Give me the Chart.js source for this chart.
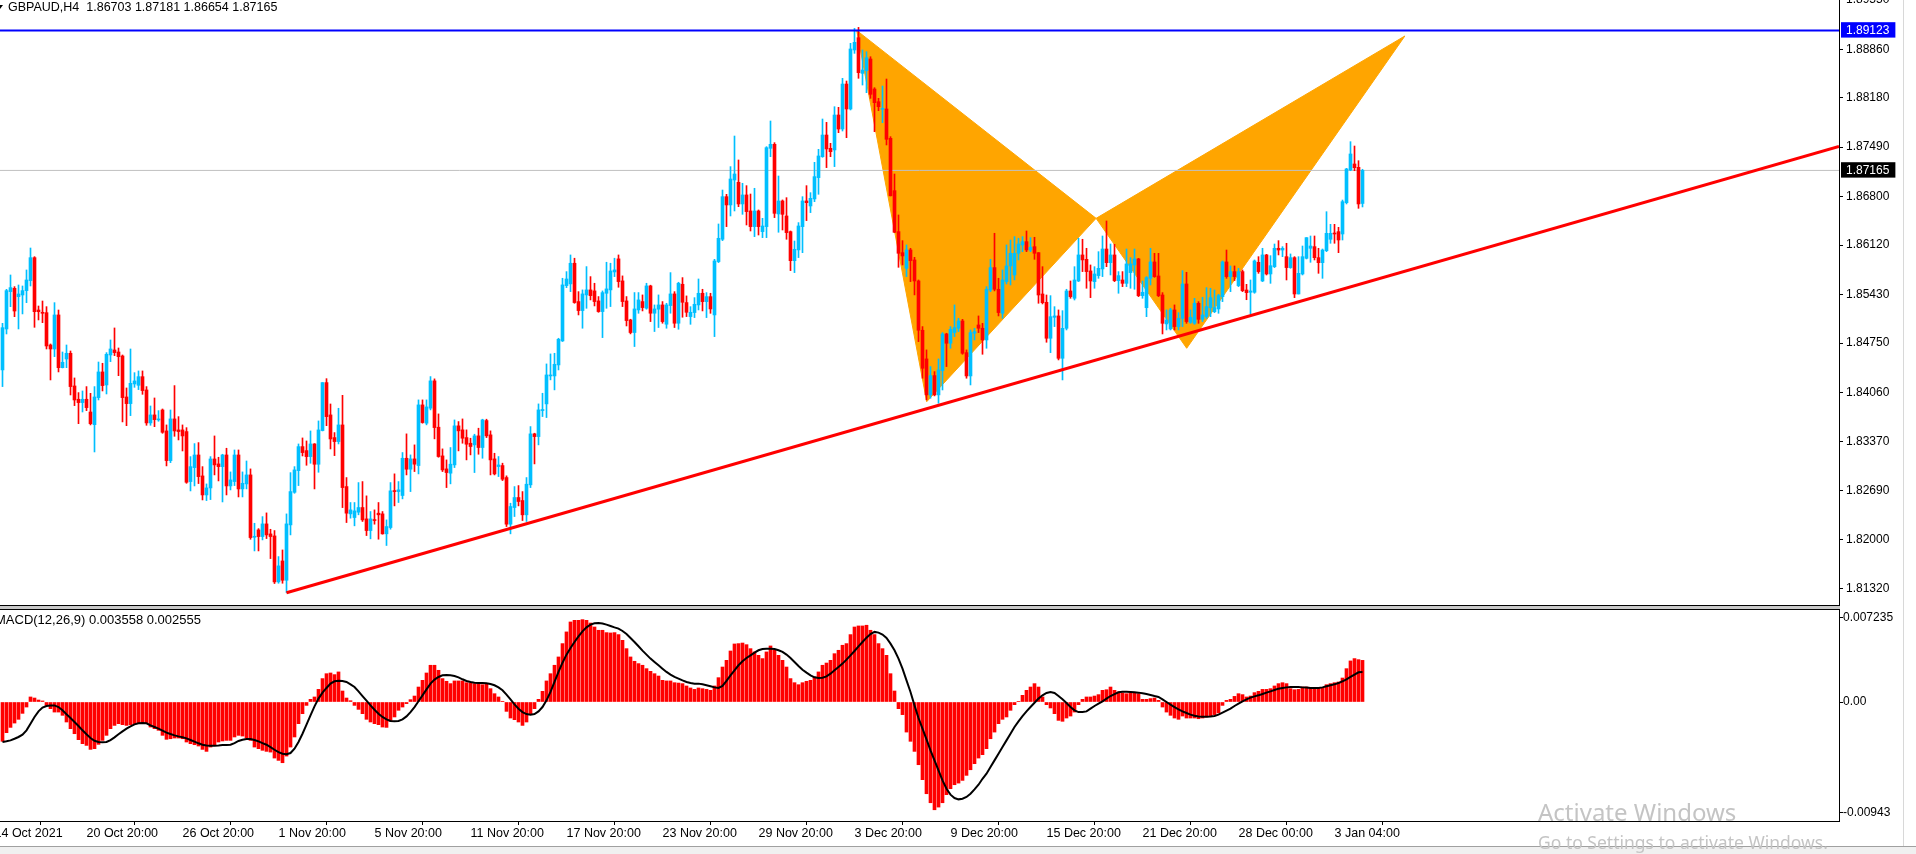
<!DOCTYPE html>
<html>
<head>
<meta charset="utf-8">
<script src="https://cdn.jsdelivr.net/npm/chart.js@4.4.1/dist/chart.umd.min.js"></script>
<style>
  body { margin: 0; width: 1916px; height: 854px; overflow: hidden; background: #fff; position: relative; font-family: "Liberation Sans", Arial, sans-serif; }
  canvas { position: absolute; left: 0; }
  #price { top: 0; }
  #macd { top: 609px; }
  .hline { position: absolute; left: 0; height: 1px; background: #000; }
  .txt { position: absolute; white-space: nowrap; line-height: 14px; color: #000; }
  .wm { position: absolute; white-space: nowrap; font-family: "Noto Sans", sans-serif; color: #c4c4c4; }
</style>
</head>
<body>
<canvas id="price" width="1916" height="605"></canvas>
<div class="hline" style="top:605px;width:1840px"></div>
<div style="position:absolute;left:0;top:606px;width:1840px;height:3px;background:#c8c8c8"></div>
<canvas id="macd" width="1916" height="237"></canvas>
<div class="hline" style="top:609px;width:1840px"></div>
<div style="position:absolute;left:1903px;top:0;width:1px;height:846px;background:#d8d8d8"></div>
<div style="position:absolute;left:0;top:846px;width:1916px;height:8px;background:#f0f0f0;border-top:1px solid #a0a0a0"></div>
<div style="position:absolute;left:-3px;top:5px;width:0;height:0;border-left:3px solid transparent;border-right:3px solid transparent;border-top:4px solid #000"></div>
<div class="txt" style="left:8px;top:0px;font-size:12.5px">GBPAUD,H4&nbsp;&nbsp;1.86703 1.87181 1.86654 1.87165</div>
<div class="txt" style="left:-5px;top:613px;font-size:13px">MACD(12,26,9) 0.003558 0.002555</div>
<div class="wm" style="left:1538px;top:795px;font-size:24px">Activate Windows</div>
<div class="wm" style="left:1538px;top:830px;font-size:17.5px">Go to Settings to activate Windows.</div>

<script>
const openP = [1.84375,1.84948,1.85470,1.85516,1.85400,1.85423,1.85484,1.85624,1.85945,1.85213,
1.85176,1.85176,1.84724,1.84668,1.85144,1.84407,1.84528,1.84608,1.84151,1.83965,
1.83918,1.83965,1.83787,1.83610,1.83988,1.84347,1.84165,1.84584,1.84654,1.84626,
1.84570,1.83997,1.83904,1.84179,1.84160,1.84281,1.84095,1.83634,1.83746,1.83676,
1.83815,1.83522,1.83107,1.83690,1.83536,1.83536,1.83513,1.82814,1.83009,1.83186,
1.82893,1.82627,1.82725,1.83130,1.83061,1.83023,1.83186,1.82753,1.82814,1.83186,
1.82711,1.82781,1.82907,1.82035,1.82138,1.82045,1.82222,1.82082,1.82054,1.81411,
1.81704,1.81434,1.82208,1.82664,1.82967,1.83303,1.83247,1.83163,1.83340,1.83056,
1.83527,1.84198,1.83746,1.83429,1.83373,1.83606,1.82744,1.82362,1.82311,1.82386,
1.82451,1.82292,1.82129,1.82278,1.82372,1.82362,1.82083,1.82171,1.82684,1.82674,
1.82619,1.83140,1.82987,1.83131,1.83038,1.83886,1.83630,1.83840,1.84222,1.83574,
1.83173,1.82991,1.82931,1.83047,1.83593,1.83537,1.83429,1.83350,1.83327,1.83453,
1.83290,1.83667,1.83467,1.83131,1.83024,1.83038,1.82870,1.82218,1.82451,1.82591,
1.82549,1.82349,1.82768,1.83481,1.83443,1.83807,1.83900,1.84291,1.84291,1.84445,
1.84781,1.85554,1.85578,1.85867,1.85331,1.85205,1.85424,1.85494,1.85480,1.85340,
1.85191,1.85447,1.85494,1.85745,1.85928,1.85620,1.85340,1.85074,1.84898,1.85214,
1.85331,1.85238,1.85550,1.85168,1.85224,1.85284,1.85014,1.85275,1.85438,1.85028,
1.85573,1.85317,1.85121,1.85177,1.85284,1.85447,1.85330,1.85400,1.85144,1.85890,
1.86202,1.86798,1.86682,1.87031,1.86999,1.86696,1.86822,1.86598,1.86379,1.86598,
1.86309,1.86379,1.87474,1.87530,1.86556,1.86738,1.86528,1.86309,1.85903,1.86053,
1.86379,1.86738,1.86668,1.86766,1.87064,1.87357,1.87660,1.87474,1.87451,1.87940,
1.87744,1.88373,1.88024,1.88849,1.89021,1.88522,1.88560,1.88723,1.88303,1.88126,
1.88019,1.88024,1.87614,1.86882,1.86309,1.86015,1.85796,1.86053,1.85913,1.85619,
1.84930,1.84529,1.84026,1.84296,1.84026,1.84366,1.84878,1.84748,1.84897,1.84958,
1.85060,1.84617,1.84291,1.84888,1.85004,1.84958,1.84794,1.85493,1.85806,1.85503,
1.85167,1.85610,1.85829,1.85703,1.86006,1.86123,1.86169,1.86052,1.86099,1.86015,
1.85437,1.85321,1.84818,1.85111,1.85130,1.84538,1.84957,1.85479,1.85377,1.85619,
1.85983,1.85922,1.85759,1.85610,1.85694,1.85787,1.86066,1.85875,1.85983,1.85624,
1.85633,1.85586,1.85736,1.85843,1.85927,1.85414,1.85246,1.85656,1.85885,1.85689,
1.85423,1.85018,1.84948,1.85214,1.84981,1.85097,1.85577,1.85041,1.85027,1.85307,
1.85083,1.85120,1.85246,1.85190,1.85228,1.85400,1.85885,1.85680,1.85750,1.85554,
1.85750,1.85493,1.85461,1.85461,1.85880,1.85619,1.85983,1.85717,1.85819,1.86076,
1.86052,1.85959,1.85806,1.85945,1.85437,1.85717,1.85936,1.86076,1.86099,1.85945,
1.85875,1.86043,1.86202,1.86285,1.86309,1.86276,1.86714,1.87171,1.87255,1.87208,
1.86703];

const highP = [1.85027,1.85502,1.85703,1.85540,1.85563,1.85549,1.85773,1.86080,1.85959,1.85269,
1.85339,1.85260,1.84738,1.85316,1.85213,1.84626,1.84724,1.84640,1.84263,1.84058,
1.84081,1.84142,1.84048,1.84142,1.84486,1.84468,1.84617,1.84794,1.84962,1.84682,
1.84584,1.84123,1.84668,1.84337,1.84361,1.84361,1.84142,1.83871,1.83983,1.83806,
1.83829,1.83606,1.83815,1.84156,1.83722,1.83606,1.83568,1.83163,1.83345,1.83359,
1.83023,1.82781,1.83163,1.83452,1.83154,1.83196,1.83280,1.82949,1.83256,1.83256,
1.82949,1.83102,1.82991,1.82231,1.82156,1.82324,1.82376,1.82147,1.82129,1.81765,
1.81858,1.82362,1.82939,1.83023,1.83340,1.83424,1.83382,1.83522,1.83345,1.83662,
1.84198,1.84253,1.83899,1.83499,1.83839,1.84020,1.82870,1.82521,1.82521,1.82800,
1.82814,1.82614,1.82395,1.82418,1.82521,1.82395,1.82278,1.82800,1.82922,1.82814,
1.83220,1.83481,1.83187,1.83327,1.83956,1.83956,1.83956,1.84282,1.84250,1.83760,
1.83271,1.83117,1.83290,1.83676,1.83653,1.83690,1.83537,1.83420,1.83476,1.83560,
1.83686,1.83686,1.83523,1.83210,1.83164,1.83071,1.82894,1.82511,1.82744,1.82758,
1.82674,1.82870,1.83583,1.83490,1.83900,1.84049,1.84459,1.84599,1.84608,1.84818,
1.85657,1.85750,1.85983,1.85937,1.85470,1.85494,1.85820,1.85680,1.85587,1.85401,
1.85480,1.85881,1.85867,1.85937,1.85983,1.85690,1.85401,1.85084,1.85457,1.85457,
1.85424,1.85587,1.85560,1.85284,1.85424,1.85331,1.85307,1.85736,1.85470,1.85601,
1.85666,1.85410,1.85260,1.85386,1.85647,1.85503,1.85456,1.85447,1.85922,1.86416,
1.86891,1.86831,1.87218,1.87646,1.87311,1.86985,1.86952,1.86835,1.86915,1.86612,
1.86495,1.87497,1.87856,1.87553,1.87087,1.86752,1.86784,1.86318,1.86178,1.86435,
1.86798,1.86952,1.86854,1.87278,1.87460,1.87884,1.87837,1.87544,1.88056,1.88047,
1.88453,1.88415,1.88942,1.89151,1.89165,1.88849,1.88825,1.88755,1.88322,1.88173,
1.88345,1.88443,1.87637,1.87115,1.86542,1.86183,1.86123,1.86076,1.85950,1.85633,
1.84981,1.84655,1.84422,1.84352,1.84529,1.84897,1.84888,1.84981,1.85284,1.85097,
1.85083,1.84655,1.84934,1.84958,1.85130,1.85027,1.85540,1.85922,1.86286,1.85657,
1.85773,1.86123,1.86192,1.86239,1.86216,1.86239,1.86318,1.86225,1.86230,1.86015,
1.85819,1.85423,1.85414,1.85260,1.85214,1.85204,1.85503,1.85619,1.85819,1.86216,
1.86202,1.86076,1.85843,1.85819,1.86029,1.86248,1.86458,1.86136,1.86132,1.85750,
1.85750,1.86066,1.85945,1.86066,1.85936,1.85619,1.85680,1.86076,1.86006,1.86006,
1.85456,1.85214,1.85237,1.85284,1.85176,1.85764,1.85740,1.85214,1.85377,1.85330,
1.85391,1.85526,1.85517,1.85493,1.85433,1.85899,1.86052,1.85829,1.85829,1.85796,
1.85773,1.85572,1.85633,1.85913,1.85959,1.86076,1.85992,1.85973,1.86136,1.86183,
1.86099,1.86146,1.85997,1.85959,1.85959,1.86108,1.86225,1.86248,1.86248,1.86076,
1.86066,1.86588,1.86411,1.86411,1.86369,1.86751,1.87194,1.87567,1.87506,1.87301,
1.87181];

const lowP = [1.84142,1.84878,1.85260,1.85120,1.84948,1.85158,1.85316,1.85549,1.84971,1.85074,
1.85036,1.84668,1.84235,1.84561,1.84347,1.84403,1.84407,1.84025,1.83876,1.83624,
1.83787,1.83806,1.83606,1.83228,1.83955,1.84081,1.84039,1.84491,1.84575,1.84295,
1.83648,1.83596,1.83736,1.84132,1.84100,1.84034,1.83601,1.83601,1.83582,1.83657,
1.83489,1.83033,1.83079,1.83447,1.83396,1.83242,1.82790,1.82683,1.82753,1.82786,
1.82557,1.82548,1.82562,1.82907,1.82823,1.82529,1.82627,1.82697,1.82758,1.82599,
1.82599,1.82711,1.82007,1.81844,1.81844,1.81998,1.82017,1.81737,1.81388,1.81392,
1.81392,1.81262,1.82068,1.82650,1.82758,1.83172,1.83042,1.83070,1.82711,1.82944,
1.83522,1.83596,1.83270,1.83177,1.83340,1.82450,1.82241,1.82302,1.82195,1.82349,
1.82256,1.82059,1.82013,1.82218,1.82008,1.82078,1.81920,1.82148,1.82474,1.82521,
1.82572,1.82907,1.82674,1.82954,1.82921,1.83630,1.83607,1.83816,1.83411,1.83154,
1.82954,1.82730,1.82782,1.83010,1.83243,1.83350,1.83117,1.83187,1.82940,1.83196,
1.83140,1.83429,1.82907,1.82907,1.82884,1.82828,1.82185,1.82083,1.82325,1.82474,
1.82269,1.82256,1.82730,1.83061,1.83327,1.83723,1.83709,1.84236,1.84096,1.84375,
1.84772,1.85526,1.85470,1.85307,1.85144,1.84958,1.85237,1.85354,1.85270,1.85181,
1.84827,1.85237,1.85261,1.85680,1.85531,1.85261,1.84990,1.84879,1.84702,1.85167,
1.85200,1.85224,1.85051,1.84912,1.84968,1.85028,1.84958,1.85168,1.84968,1.84944,
1.85112,1.85121,1.85013,1.85107,1.85214,1.85200,1.85107,1.85167,1.84841,1.85876,
1.86183,1.86379,1.86528,1.86598,1.86658,1.86551,1.86402,1.86318,1.86239,1.86262,
1.86225,1.86225,1.87357,1.86505,1.86300,1.86332,1.86202,1.85764,1.85736,1.85946,
1.86015,1.86463,1.86575,1.86728,1.86831,1.87348,1.87204,1.87357,1.87218,1.87693,
1.87716,1.87623,1.88010,1.88802,1.88453,1.88359,1.88252,1.88173,1.87707,1.88000,
1.87833,1.87521,1.86808,1.86295,1.85810,1.85843,1.85680,1.85610,1.85424,1.84771,
1.84259,1.83956,1.83979,1.84012,1.83909,1.84095,1.84422,1.84678,1.84841,1.84911,
1.84594,1.84259,1.84165,1.84794,1.84897,1.84594,1.84678,1.85470,1.85480,1.85130,
1.85097,1.85577,1.85563,1.85633,1.85913,1.86029,1.86029,1.86029,1.85922,1.85307,
1.85298,1.84762,1.84617,1.84981,1.84515,1.84235,1.84934,1.85377,1.85353,1.85610,
1.85750,1.85517,1.85386,1.85517,1.85656,1.85680,1.85819,1.85703,1.85610,1.85447,
1.85540,1.85540,1.85517,1.85503,1.85400,1.85377,1.85120,1.85563,1.85670,1.85400,
1.84878,1.84934,1.84934,1.84934,1.84934,1.84981,1.85027,1.85027,1.85013,1.85027,
1.85051,1.85097,1.85120,1.85176,1.85167,1.85330,1.85656,1.85470,1.85624,1.85540,
1.85470,1.85357,1.85158,1.85447,1.85726,1.85610,1.85703,1.85586,1.85806,1.85983,
1.85959,1.85633,1.85796,1.85386,1.85437,1.85703,1.85927,1.85880,1.85913,1.85726,
1.85656,1.86029,1.86146,1.86146,1.86015,1.86192,1.86696,1.87161,1.87161,1.86635,
1.86654];

const closeP = [1.84966,1.85484,1.85526,1.85199,1.85437,1.85484,1.85633,1.85945,1.85190,1.85190,
1.85167,1.84710,1.84668,1.85144,1.84407,1.84482,1.84608,1.84142,1.83955,1.83918,
1.83965,1.83848,1.83624,1.83997,1.84347,1.84156,1.84594,1.84668,1.84617,1.84561,
1.83988,1.83904,1.84188,1.84221,1.84281,1.84086,1.83634,1.83746,1.83680,1.83685,
1.83503,1.83107,1.83690,1.83522,1.83513,1.83452,1.82804,1.83023,1.83186,1.82883,
1.82627,1.82725,1.83130,1.83047,1.83023,1.83186,1.82753,1.82837,1.83186,1.82711,
1.82790,1.82907,1.82031,1.82045,1.82045,1.82222,1.82068,1.82045,1.81411,1.81635,
1.81434,1.82222,1.82674,1.82977,1.83303,1.83219,1.83163,1.83340,1.83056,1.83536,
1.84198,1.83722,1.83410,1.83373,1.83606,1.82730,1.82372,1.82418,1.82404,1.82451,
1.82278,1.82129,1.82292,1.82269,1.82349,1.82083,1.82185,1.82684,1.82674,1.82698,
1.83140,1.82987,1.83131,1.83057,1.83886,1.83639,1.83858,1.84222,1.83569,1.83164,
1.82977,1.82940,1.83057,1.83593,1.83523,1.83420,1.83336,1.83304,1.83453,1.83290,
1.83676,1.83453,1.83117,1.82921,1.83047,1.82847,1.82218,1.82465,1.82591,1.82535,
1.82349,1.82777,1.83481,1.83443,1.83816,1.83816,1.84305,1.84305,1.84454,1.84804,
1.85564,1.85647,1.85867,1.85317,1.85205,1.85438,1.85494,1.85414,1.85331,1.85191,
1.85456,1.85508,1.85759,1.85774,1.85610,1.85331,1.85065,1.84898,1.85228,1.85354,
1.85247,1.85550,1.85168,1.85228,1.85284,1.85051,1.85284,1.85438,1.85028,1.85587,
1.85321,1.85181,1.85181,1.85293,1.85447,1.85330,1.85400,1.85228,1.85899,1.86216,
1.86798,1.86682,1.87045,1.87115,1.86696,1.86822,1.86589,1.86379,1.86598,1.86379,
1.86388,1.87483,1.87530,1.86565,1.86738,1.86551,1.86295,1.85903,1.86062,1.86388,
1.86738,1.86714,1.86775,1.87078,1.87367,1.87660,1.87465,1.87427,1.87940,1.87744,
1.88373,1.88024,1.88863,1.88956,1.88532,1.88569,1.88741,1.88229,1.88112,1.88056,
1.88033,1.87600,1.86810,1.86300,1.86006,1.85969,1.86053,1.85903,1.85619,1.84930,
1.84398,1.84026,1.84296,1.84026,1.84375,1.84878,1.84748,1.84943,1.84967,1.85060,
1.84608,1.84291,1.84897,1.84911,1.84958,1.84794,1.85503,1.85806,1.85503,1.85177,
1.85633,1.85829,1.86006,1.86006,1.86137,1.86169,1.86053,1.86090,1.86006,1.85423,
1.85316,1.84818,1.85120,1.85130,1.84538,1.84957,1.85479,1.85400,1.85633,1.85983,
1.85913,1.85750,1.85619,1.85717,1.85796,1.86066,1.85875,1.85983,1.85624,1.85694,
1.85586,1.85857,1.85857,1.85927,1.85414,1.85461,1.85666,1.85885,1.85680,1.85414,
1.85027,1.85074,1.85214,1.84981,1.85097,1.85577,1.85051,1.85111,1.85307,1.85083,
1.85144,1.85260,1.85386,1.85246,1.85414,1.85885,1.85680,1.85750,1.85680,1.85750,
1.85484,1.85456,1.85479,1.85899,1.85750,1.85983,1.85717,1.85833,1.86076,1.86052,
1.86076,1.85806,1.85945,1.85437,1.85726,1.85959,1.86225,1.86108,1.85945,1.85875,
1.86052,1.86285,1.86285,1.86276,1.86192,1.86728,1.87185,1.87395,1.87203,1.86696,
1.87165];

const macdHist = [-0.00336,-0.00262,-0.00217,-0.00180,-0.00148,-0.00097,-0.00043,0.00043,0.00034,0.00017,
0.00009,-0.00029,-0.00057,-0.00086,-0.00086,-0.00114,-0.00171,-0.00228,-0.00271,-0.00322,
-0.00356,-0.00371,-0.00405,-0.00399,-0.00362,-0.00328,-0.00285,-0.00228,-0.00200,-0.00185,
-0.00194,-0.00200,-0.00194,-0.00188,-0.00182,-0.00180,-0.00180,-0.00214,-0.00228,-0.00242,
-0.00285,-0.00319,-0.00314,-0.00308,-0.00308,-0.00314,-0.00342,-0.00356,-0.00365,-0.00376,
-0.00405,-0.00422,-0.00385,-0.00365,-0.00342,-0.00333,-0.00328,-0.00328,-0.00299,-0.00285,
-0.00291,-0.00308,-0.00328,-0.00385,-0.00399,-0.00413,-0.00422,-0.00428,-0.00479,-0.00499,
-0.00519,-0.00462,-0.00385,-0.00299,-0.00185,-0.00100,-0.00029,0.00023,0.00043,0.00108,
0.00200,0.00242,0.00248,0.00234,0.00257,0.00094,0.00034,0.00011,-0.00029,-0.00063,
-0.00100,-0.00148,-0.00171,-0.00185,-0.00194,-0.00214,-0.00217,-0.00165,-0.00128,-0.00071,
-0.00043,-0.00014,0.00020,0.00051,0.00128,0.00185,0.00248,0.00314,0.00314,0.00271,
0.00200,0.00177,0.00157,0.00180,0.00180,0.00180,0.00165,0.00162,0.00157,0.00157,
0.00148,0.00157,0.00114,0.00071,0.00043,0.00006,-0.00080,-0.00137,-0.00151,-0.00171,
-0.00200,-0.00171,-0.00100,-0.00057,0.00023,0.00091,0.00180,0.00242,0.00314,0.00385,
0.00499,0.00599,0.00684,0.00698,0.00698,0.00704,0.00698,0.00675,0.00641,0.00613,
0.00613,0.00593,0.00590,0.00593,0.00576,0.00527,0.00456,0.00385,0.00348,0.00328,
0.00314,0.00285,0.00262,0.00242,0.00222,0.00185,0.00180,0.00180,0.00165,0.00162,
0.00157,0.00137,0.00120,0.00108,0.00120,0.00114,0.00108,0.00100,0.00137,0.00208,
0.00299,0.00356,0.00436,0.00496,0.00499,0.00504,0.00490,0.00456,0.00428,0.00399,
0.00371,0.00428,0.00479,0.00442,0.00399,0.00356,0.00299,0.00200,0.00165,0.00148,
0.00165,0.00177,0.00185,0.00214,0.00257,0.00314,0.00333,0.00356,0.00413,0.00442,
0.00485,0.00499,0.00576,0.00641,0.00650,0.00650,0.00656,0.00613,0.00576,0.00499,
0.00456,0.00399,0.00242,0.00094,-0.00057,-0.00108,-0.00257,-0.00336,-0.00422,-0.00536,
-0.00664,-0.00784,-0.00861,-0.00921,-0.00898,-0.00861,-0.00792,-0.00741,-0.00707,-0.00693,
-0.00670,-0.00627,-0.00579,-0.00527,-0.00479,-0.00450,-0.00399,-0.00314,-0.00257,-0.00185,
-0.00148,-0.00128,-0.00071,-0.00023,0.00003,0.00057,0.00100,0.00128,0.00157,0.00128,
0.00043,-0.00023,-0.00051,-0.00100,-0.00157,-0.00165,-0.00137,-0.00120,-0.00086,-0.00023,
0.00023,0.00043,0.00043,0.00051,0.00063,0.00100,0.00105,0.00128,0.00100,0.00086,
0.00077,0.00071,0.00077,0.00077,0.00071,0.00023,0.00023,0.00029,0.00034,0.00014,
-0.00043,-0.00086,-0.00114,-0.00137,-0.00148,-0.00120,-0.00137,-0.00137,-0.00137,-0.00143,
-0.00137,-0.00128,-0.00120,-0.00108,-0.00094,-0.00029,0.00014,0.00023,0.00048,0.00071,
0.00063,0.00043,0.00051,0.00080,0.00091,0.00108,0.00108,0.00114,0.00137,0.00157,
0.00165,0.00157,0.00114,0.00105,0.00108,0.00128,0.00128,0.00120,0.00120,0.00120,
0.00120,0.00148,0.00157,0.00165,0.00171,0.00205,0.00285,0.00351,0.00371,0.00362,
0.003558];

const macdSignal = [-0.00342,-0.00336,-0.00328,-0.00314,-0.00299,-0.00279,-0.00242,-0.00185,-0.00128,-0.00080,
-0.00048,-0.00034,-0.00029,-0.00029,-0.00043,-0.00071,-0.00105,-0.00137,-0.00171,-0.00205,
-0.00242,-0.00276,-0.00308,-0.00331,-0.00342,-0.00345,-0.00342,-0.00325,-0.00302,-0.00276,
-0.00251,-0.00228,-0.00208,-0.00191,-0.00182,-0.00180,-0.00182,-0.00200,-0.00214,-0.00228,
-0.00245,-0.00262,-0.00274,-0.00285,-0.00294,-0.00302,-0.00311,-0.00325,-0.00339,-0.00353,
-0.00365,-0.00371,-0.00373,-0.00373,-0.00371,-0.00368,-0.00368,-0.00365,-0.00351,-0.00333,
-0.00322,-0.00316,-0.00316,-0.00325,-0.00336,-0.00351,-0.00365,-0.00385,-0.00408,-0.00428,
-0.00442,-0.00447,-0.00436,-0.00399,-0.00342,-0.00271,-0.00194,-0.00114,-0.00037,0.00029,
0.00080,0.00120,0.00157,0.00177,0.00182,0.00180,0.00171,0.00151,0.00128,0.00091,
0.00051,0.00011,-0.00029,-0.00066,-0.00100,-0.00128,-0.00148,-0.00162,-0.00165,-0.00162,
-0.00148,-0.00123,-0.00086,-0.00043,0.00006,0.00057,0.00108,0.00157,0.00191,0.00214,
0.00228,0.00231,0.00228,0.00222,0.00211,0.00194,0.00180,0.00171,0.00165,0.00162,
0.00162,0.00160,0.00154,0.00143,0.00125,0.00100,0.00063,0.00023,-0.00020,-0.00057,
-0.00086,-0.00103,-0.00108,-0.00103,-0.00080,-0.00043,0.00014,0.00086,0.00171,0.00257,
0.00336,0.00405,0.00462,0.00513,0.00561,0.00604,0.00638,0.00661,0.00673,0.00675,
0.00670,0.00661,0.00650,0.00638,0.00627,0.00607,0.00581,0.00547,0.00513,0.00476,
0.00439,0.00405,0.00371,0.00342,0.00314,0.00285,0.00257,0.00234,0.00214,0.00200,
0.00185,0.00171,0.00162,0.00157,0.00157,0.00151,0.00143,0.00134,0.00125,0.00120,
0.00137,0.00180,0.00228,0.00271,0.00314,0.00348,0.00376,0.00399,0.00422,0.00442,
0.00453,0.00456,0.00456,0.00453,0.00442,0.00428,0.00405,0.00376,0.00342,0.00308,
0.00276,0.00251,0.00228,0.00211,0.00205,0.00208,0.00219,0.00242,0.00271,0.00299,
0.00328,0.00362,0.00399,0.00436,0.00476,0.00513,0.00550,0.00581,0.00599,0.00593,
0.00576,0.00547,0.00499,0.00442,0.00371,0.00285,0.00185,0.00086,-0.00029,-0.00137,
-0.00228,-0.00319,-0.00413,-0.00499,-0.00584,-0.00670,-0.00741,-0.00792,-0.00821,-0.00832,
-0.00827,-0.00812,-0.00784,-0.00747,-0.00707,-0.00656,-0.00613,-0.00556,-0.00499,-0.00442,
-0.00385,-0.00328,-0.00271,-0.00214,-0.00165,-0.00120,-0.00080,-0.00043,-0.00006,0.00029,
0.00057,0.00077,0.00086,0.00077,0.00051,0.00023,-0.00009,-0.00043,-0.00071,-0.00086,
-0.00086,-0.00080,-0.00057,-0.00034,-0.00014,0.00006,0.00029,0.00051,0.00068,0.00083,
0.00088,0.00088,0.00086,0.00083,0.00080,0.00074,0.00068,0.00060,0.00051,0.00043,
0.00023,0.00000,-0.00023,-0.00043,-0.00063,-0.00080,-0.00094,-0.00108,-0.00117,-0.00123,
-0.00125,-0.00125,-0.00123,-0.00120,-0.00108,-0.00091,-0.00074,-0.00057,-0.00034,-0.00014,
0.00006,0.00023,0.00037,0.00048,0.00057,0.00068,0.00080,0.00091,0.00103,0.00114,
0.00120,0.00125,0.00128,0.00128,0.00128,0.00125,0.00123,0.00120,0.00120,0.00120,
0.00125,0.00134,0.00143,0.00151,0.00162,0.00177,0.00194,0.00214,0.00234,0.00254,
0.002555];

const priceTicks = [1.8955, 1.8886, 1.8818, 1.8749, 1.8680, 1.8612, 1.8543, 1.8475, 1.8406, 1.8337, 1.8269, 1.8200, 1.8132];
const levelHigh = 1.89123;
const lastClose = 1.87165;
const trendBars = [71, 459.125];
const trendPrices = [1.8126, 1.8750];
// X, A, B, C, D of the harmonic pattern
const patternBars = [213.55, 231.05, 273.4, 296.05, 350.6];
const patternPrices = [1.89123, 1.83931, 1.86495, 1.84678, 1.89045];
const macdTicks = [0.007235, 0, -0.00943];
const macdTickLabels = ["0.007235", "0.00", "-0.00943"];
const timeBars = [-2, 21, 45, 69, 93, 117, 141, 165, 189, 213, 237, 261, 285, 309, 333];
const timeLabels = ["14 Oct 2021", "20 Oct 20:00", "26 Oct 20:00", "1 Nov 20:00", "5 Nov 20:00", "11 Nov 20:00",
  "17 Nov 20:00", "23 Nov 20:00", "29 Nov 20:00", "3 Dec 20:00", "9 Dec 20:00", "15 Dec 20:00",
  "21 Dec 20:00", "28 Dec 00:00", "3 Jan 04:00"];

const bullColor = "#00BFFF";
const bearColor = "#FF0000";
const xMin = -0.625;
const xMax = xMin + 1839 / 4;
const priceMax = 1.89548;
const priceMin = 1.81088;
const macdMax = 0.007948;
const macdMin = -0.01017;

Chart.defaults.font.family = "'Liberation Sans', Arial, sans-serif";
Chart.defaults.font.size = 12;
Chart.defaults.color = "#000";

function pontos(xs, ys) {
  return xs.map((x, i) => ({ x: x, y: ys[i] }));
}

function linha(xs, ys, cor, largura, ordem) {
  return { type: "line", data: pontos(xs, ys), borderColor: cor, borderWidth: largura,
    pointRadius: 0, fill: false, order: ordem, tension: 0 };
}

function triangulo(ids) {
  return { type: "line", data: ids.map(k => ({ x: patternBars[k], y: patternPrices[k] })),
    borderColor: "#FFA500", backgroundColor: "#FFA500", borderWidth: 1, pointRadius: 0,
    fill: "shape", order: 10 };
}

function eixoY(extra) {
  return Object.assign({
    position: "right",
    afterFit: s => { s.width = 77; s.paddingTop = 0; s.paddingBottom = 0; },
    border: { display: true, color: "#000", width: 1 },
    grid: { drawOnChartArea: false, drawTicks: true, tickLength: 4, color: "#000" }
  }, extra);
}

const isMarker = v => v === levelHigh || v === lastClose;
const candleColors = closeP.map((c, i) => c >= openP[i] ? bullColor : bearColor);
const bodies = openP.map((o, i) => ({ x: i, y: [o, closeP[i]] }));
const wicks = lowP.map((l, i) => ({ x: i, y: [l, highP[i]] }));

new Chart(document.getElementById("price"), {
  type: "bar",
  data: {
    datasets: [
      triangulo([0, 1, 2, 0]),
      triangulo([2, 3, 4, 2]),
      linha([xMin, xMax], [lastClose, lastClose], "#C0C0C0", 1, 8),
      { data: wicks, backgroundColor: candleColors, barThickness: 1, grouped: false, order: 6 },
      { data: bodies, backgroundColor: candleColors, barThickness: 3, grouped: false, minBarLength: 1, order: 5 },
      linha([xMin, xMax], [levelHigh, levelHigh], "#0000FF", 2, 2),
      linha(trendBars, trendPrices, "#FF0000", 3, 1)
    ]
  },
  options: {
    responsive: false, animation: false, devicePixelRatio: 1,
    layout: { padding: 0 },
    plugins: { legend: { display: false }, tooltip: { enabled: false } },
    scales: {
      x: { type: "linear", min: xMin, max: xMax, offset: false, display: false },
      y: eixoY({
        min: priceMin, max: priceMax,
        afterBuildTicks: s => { s.ticks = priceTicks.concat([levelHigh, lastClose]).map(v => ({ value: v })); },
        grid: { drawOnChartArea: false, drawTicks: true, tickLength: 4,
          color: c => isMarker(c.tick && c.tick.value) ? "rgba(0,0,0,0)" : "#000" },
        ticks: {
          autoSkip: false, padding: 3,
          callback: v => v.toFixed(5),
          color: c => isMarker(c.tick.value) ? "#fff" : "#000",
          showLabelBackdrop: true,
          backdropColor: c => c.tick.value === levelHigh ? "#0000FF" : (c.tick.value === lastClose ? "#000" : "rgba(0,0,0,0)"),
          backdropPadding: { top: 1, bottom: 0, left: 5, right: 6 }
        }
      })
    }
  }
});

new Chart(document.getElementById("macd"), {
  type: "bar",
  data: {
    datasets: [
      { data: macdHist.map((v, i) => ({ x: i, y: v })), backgroundColor: "#FF0000", barThickness: 3, grouped: false, order: 2 },
      linha(macdSignal.map((v, i) => i), macdSignal, "#000", 2, 1)
    ]
  },
  options: {
    responsive: false, animation: false, devicePixelRatio: 1,
    layout: { padding: 0 },
    plugins: { legend: { display: false }, tooltip: { enabled: false } },
    scales: {
      x: {
        type: "linear", min: xMin, max: xMax, offset: false, position: "bottom",
        afterBuildTicks: s => { s.ticks = timeBars.map(v => ({ value: v })); },
        afterFit: s => { s.height = 25; s.paddingLeft = 0; s.paddingRight = 0; },
        border: { display: true, color: "#000", width: 1 },
        grid: { drawOnChartArea: false, drawTicks: true, tickLength: 4, color: "#000" },
        ticks: { autoSkip: false, maxRotation: 0, minRotation: 0, align: "start", padding: 1,
          font: { size: 12.5 }, callback: (v, i) => timeLabels[i] }
      },
      y: eixoY({
        min: macdMin, max: macdMax,
        afterBuildTicks: s => { s.ticks = macdTicks.map(v => ({ value: v })); },
        ticks: { autoSkip: false, padding: 0, callback: (v, i) => macdTickLabels[i] }
      })
    }
  }
});
</script>
</body>
</html>
